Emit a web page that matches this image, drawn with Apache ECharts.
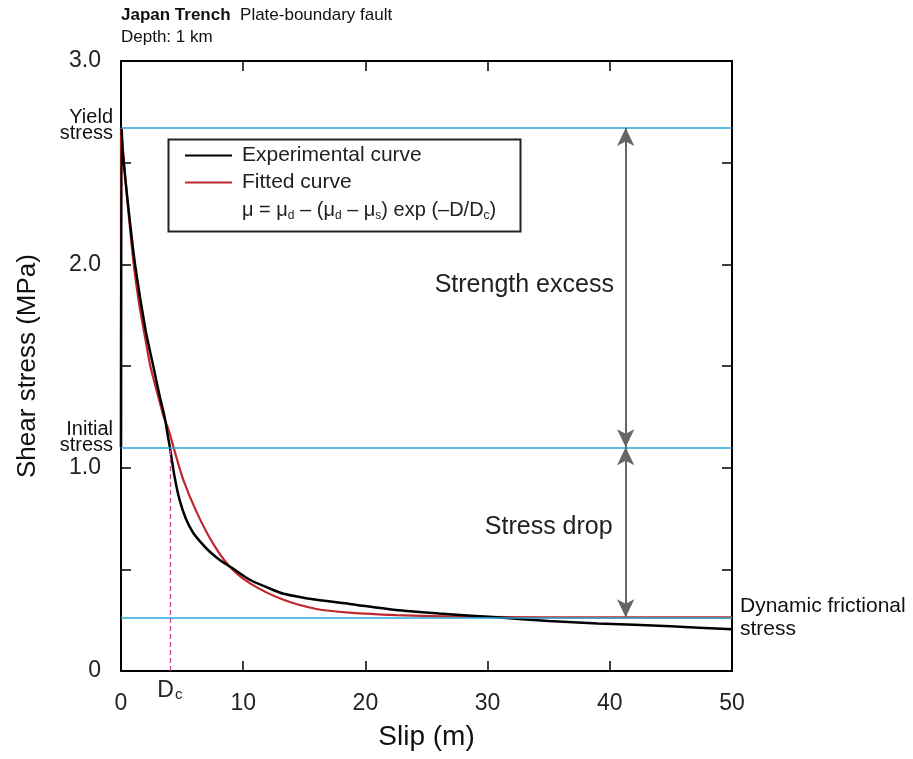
<!DOCTYPE html>
<html>
<head>
<meta charset="utf-8">
<script src="https://cdn.jsdelivr.net/npm/echarts@6/dist/echarts.min.js"></script>
<style>
  html, body { margin: 0; padding: 0; background: #fff; }
  #chart { width: 913px; height: 759px; }
</style>
</head>
<body>
<div id="chart"></div>
<script>
// values
const expSlip   = [0, 0.05, 0.15, 0.6, 1.15, 2.0, 2.64, 3.1, 3.6, 3.75, 4.0, 4.4, 4.8, 5.3, 5.9, 6.5, 7.2, 8.0, 9.0, 10.5, 12.0, 13.3, 16.0, 18.7, 22.5, 26.0, 30.7, 35.0, 39.0, 45.0, 50.0]
const expStress = [1.10, 2.67, 2.55, 2.28, 2.0, 1.68, 1.50, 1.37, 1.24, 1.185, 1.10, 0.95, 0.84, 0.75, 0.68, 0.635, 0.59, 0.55, 0.51, 0.45, 0.41, 0.38, 0.35, 0.33, 0.30, 0.283, 0.264, 0.246, 0.234, 0.22, 0.205]
const fitSlip   = [0, 0, 0.5, 1.0, 1.5, 2.0, 2.4, 3.0, 3.5, 3.9, 4.3, 5.1, 6.2, 7.5, 8.9, 10.6, 13.3, 16.0, 18.7, 22.5, 28.0, 35.0, 50.0]
const fitStress = [1.10, 2.67, 2.33, 2.02, 1.80, 1.63, 1.50, 1.36, 1.25, 1.185, 1.10, 0.94, 0.78, 0.63, 0.513, 0.43, 0.35, 0.305, 0.287, 0.275, 0.267, 0.264, 0.264]

const yieldStress = 2.67
const initialStress = 1.10
const dynamicStress = 0.264
const dc = 4.0
const arrowSlip = 41.3

const font = '"Liberation Sans", Arial, sans-serif'
const chart = echarts.init(document.getElementById('chart'))

const tickStyle = { inside: true, length: 10, lineStyle: { color: '#000', width: 1.5 } }
const frameLine = { show: true, onZero: false, lineStyle: { color: '#000', width: 2 } }

function yLabel(v) {
  if (v === 0) return '0'
  return v % 1 === 0 ? v.toFixed(1) : ''
}

const option = {
  animation: false,
  textStyle: { fontFamily: font },
  grid: { left: 121, right: 181, top: 61, bottom: 88 },
  xAxis: [{
    type: 'value', min: 0, max: 50, interval: 10,
    name: 'Slip (m)', nameLocation: 'middle', nameGap: 52,
    nameTextStyle: { fontSize: 28, color: '#111', fontFamily: font },
    axisLine: frameLine, axisTick: tickStyle,
    axisLabel: { fontSize: 23, color: '#222', margin: 21, fontFamily: font },
    splitLine: { show: false }
  }, {
    type: 'value', min: 0, max: 50, interval: 10, position: 'top',
    axisLine: frameLine, axisTick: tickStyle,
    axisLabel: { show: false }, splitLine: { show: false }
  }],
  yAxis: [{
    type: 'value', min: 0, max: 3, interval: 0.5,
    name: 'Shear stress (MPa)', nameLocation: 'middle', nameGap: 80, nameRotate: 90,
    nameTextStyle: { fontSize: 26, color: '#111', fontFamily: font },
    axisLine: frameLine, axisTick: { show: true, ...tickStyle },
    axisLabel: { fontSize: 23, color: '#222', margin: 20, formatter: yLabel, fontFamily: font },
    splitLine: { show: false }
  }, {
    type: 'value', min: 0, max: 3, interval: 0.5, position: 'right',
    axisLine: frameLine, axisTick: { show: true, ...tickStyle },
    axisLabel: { show: false }, splitLine: { show: false }
  }],
  legend: {
    data: [{ name: 'Experimental curve', icon: 'rect' }, { name: 'Fitted curve', icon: 'rect' }],
    orient: 'vertical', left: 180, top: 140,
    itemWidth: 47, itemHeight: 2, itemGap: 6,
    textStyle: { fontSize: 21, color: '#222', fontFamily: font, padding: [0, 0, 0, 5] },
    selectedMode: false
  },
  graphic: [
    {
      type: 'rect', left: 166, top: 137, silent: true,
      shape: { width: 352, height: 92 },
      style: { fill: 'none', stroke: '#222', lineWidth: 2 }
    },
    {
      type: 'text', left: 242, top: 200, silent: true,
      style: {
        text: '{t|\u03bc = \u03bc}{s|d}{t| \u2013 (\u03bc}{s|d}{t| \u2013 \u03bc}{s|s}{t|) exp (\u2013D/D}{s|c}{t|)}',
        rich: {
          t: { fontSize: 20, fill: '#222', fontFamily: font },
          s: { fontSize: 12, fill: '#222', fontFamily: font, padding: [12, 0, 0, 0] }
        }
      }
    },
    {
      type: 'text', left: 121, top: 7, silent: true,
      style: {
        text: '{b|Japan Trench}{n|  Plate-boundary fault}\n{n|Depth: 1 km}',
        rich: {
          b: { fontSize: 17, fontWeight: 'bold', fill: '#111', fontFamily: font, lineHeight: 22 },
          n: { fontSize: 17, fill: '#111', fontFamily: font, lineHeight: 22 }
        }
      }
    }
  ],
  series: [
    {
      name: 'Experimental curve', type: 'line', symbol: 'none', z: 4, smooth: 0.25,
      data: expSlip.map((x, i) => [x, expStress[i]]),
      lineStyle: { color: '#000', width: 2.5 },
      itemStyle: { color: '#000' }
    },
    {
      name: 'Fitted curve', type: 'line', symbol: 'none', z: 3, smooth: 0.25,
      data: fitSlip.map((x, i) => [x, fitStress[i]]),
      lineStyle: { color: '#c0282d', width: 2.2 },
      itemStyle: { color: '#c0282d' }
    },
    {
      name: 'levels', type: 'line', data: [], z: 2,
      markLine: {
        silent: true, symbol: 'none', animation: false,
        lineStyle: { color: '#27a9d8', width: 1.6, type: 'solid' },
        data: [
          { yAxis: yieldStress, label: { show: true, position: 'start', distance: 8, formatter: 'Yield\nstress', fontSize: 20, lineHeight: 16, color: '#111', offset: [0, -3] } },
          { yAxis: initialStress, label: { show: true, position: 'start', distance: 8, formatter: 'Initial\nstress', fontSize: 20, lineHeight: 16, color: '#111', offset: [0, -10] } },
          { yAxis: dynamicStress, label: { show: true, position: 'end', distance: 8, formatter: 'Dynamic frictional\nstress', fontSize: 21, lineHeight: 23, color: '#111', align: 'left' } }
        ]
      }
    },
    {
      name: 'dc', type: 'line', data: [], z: 2,
      markLine: {
        silent: true, symbol: 'none', animation: false,
        lineStyle: { color: '#c9479b', width: 1.3, type: [5, 3] },
        data: [[
          { coord: [dc, 0], label: { show: true, position: 'start', distance: 8, formatter: '{a|D}{b|c}', rich: { a: { fontSize: 23, color: '#222' }, b: { fontSize: 15, color: '#222', padding: [8, 0, 0, 1] } } } },
          { coord: [dc, initialStress] }
        ]]
      }
    },
    {
      name: 'arrows', type: 'line', data: [], z: 2,
      markLine: {
        silent: true, symbol: ['arrow', 'arrow'], symbolSize: [13, 18], animation: false,
        lineStyle: { color: '#666', width: 2, type: 'solid' },
        label: { show: false },
        data: [
          [{ coord: [arrowSlip, yieldStress] }, { coord: [arrowSlip, initialStress] }],
          [{ coord: [arrowSlip, initialStress] }, { coord: [arrowSlip, dynamicStress] }]
        ]
      }
    },
    {
      name: 'notes', type: 'scatter', symbolSize: 0, silent: true, z: 5,
      itemStyle: { opacity: 1 },
      data: [
        { value: [33.0, 1.90], name: 'Strength excess' },
        { value: [35.0, 0.71], name: 'Stress drop' }
      ],
      label: { show: true, position: 'inside', formatter: p => p.name, fontSize: 25, color: '#222', fontFamily: font }
    }
  ]
}

chart.setOption(option)
</script>
</body>
</html>
